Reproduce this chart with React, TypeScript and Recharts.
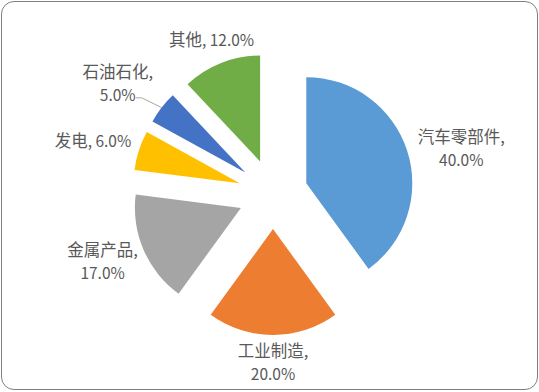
import React from 'react'
import { PieChart, Pie, Cell, Sector } from 'recharts'

const categories = ['汽车零部件', '工业制造', '金属产品', '发电', '石油石化', '其他']
const shares = [40, 20, 17, 6, 5, 12]
const colors = ['#5B9BD5', '#ED7D31', '#A5A5A5', '#FFC000', '#4472C4', '#70AD47']

// label layout: distance from pie centre, angle nudge, single line or not
const labelDist = [194, 167, 183, 188, 191, 167]
const labelNudge = [-4, 0, -2, 1.3, 2.2, 0]
const singleLine = [false, false, false, true, false, true]

const data = categories.map((name, i) => ({ name, value: shares[i] }))

const RAD = Math.PI / 180
const EXPLODE = 35
const FONT = "'Noto Sans CJK SC', 'Noto Sans', sans-serif"
const NAME_SIZE = 16.5
const NUM_SIZE = 15.5

const polar = (cx: number, cy: number, r: number, angle: number) => ({
  x: cx + r * Math.cos(-angle * RAD),
  y: cy + r * Math.sin(-angle * RAD),
})

const ExplodedSector = (props: any) => {
  const p = polar(0, 0, EXPLODE, props.midAngle)
  return <Sector {...props} cx={props.cx + p.x} cy={props.cy + p.y} stroke="none" />
}

const renderLabel = (props: any) => {
  const { cx, cy, midAngle, outerRadius, index } = props
  const pos = polar(cx, cy, labelDist[index], midAngle + labelNudge[index])
  const pct = `${shares[index].toFixed(1)}%`
  const name = categories[index]
  let leader = null
  if (index === 4) {
    const end = polar(cx, cy, outerRadius + EXPLODE, midAngle)
    leader = (
      <polyline
        points={`${pos.x + 18},${pos.y + 15} ${pos.x + 24},${pos.y + 15} ${end.x},${end.y}`}
        fill="none"
        stroke="#A6A6A6"
        strokeWidth={1}
      />
    )
  }
  if (singleLine[index]) {
    return (
      <text x={pos.x} y={pos.y} textAnchor="middle" dominantBaseline="central" fill="#595959" fontSize={NUM_SIZE} fontFamily={FONT}>
        <tspan fontSize={NAME_SIZE}>{name}</tspan>
        <tspan>{`, ${pct}`}</tspan>
      </text>
    )
  }
  return (
    <g>
      {leader}
      <text x={pos.x} y={pos.y} textAnchor="middle" dominantBaseline="central" fill="#595959" fontSize={NUM_SIZE} fontFamily={FONT}>
        <tspan x={pos.x} dy={-11.5} fontSize={NAME_SIZE}>{`${name},`}</tspan>
        <tspan x={pos.x} dy={23}>{pct}</tspan>
      </text>
    </g>
  )
}

export default function App() {
  return (
    <div style={{ position: 'absolute', left: 0, top: 0, width: 539, height: 392, background: '#fff' }}>
      <div
        style={{
          position: 'absolute',
          left: 1,
          top: 1,
          width: 535,
          height: 387,
          border: '1px solid #7F7F7F',
          borderRadius: 13,
        }}
      />
      <div style={{ position: 'absolute', left: 0, top: 0 }}>
        <PieChart width={539} height={392}>
          <Pie
            data={data}
            dataKey="value"
            nameKey="name"
            cx={268}
            cy={189}
            outerRadius={106}
            startAngle={90}
            endAngle={-270}
            stroke="none"
            shape={ExplodedSector}
            label={renderLabel}
            labelLine={false}
            isAnimationActive={false}
          >
            {data.map((d, i) => (
              <Cell key={d.name} fill={colors[i]} />
            ))}
          </Pie>
        </PieChart>
      </div>
    </div>
  )
}
